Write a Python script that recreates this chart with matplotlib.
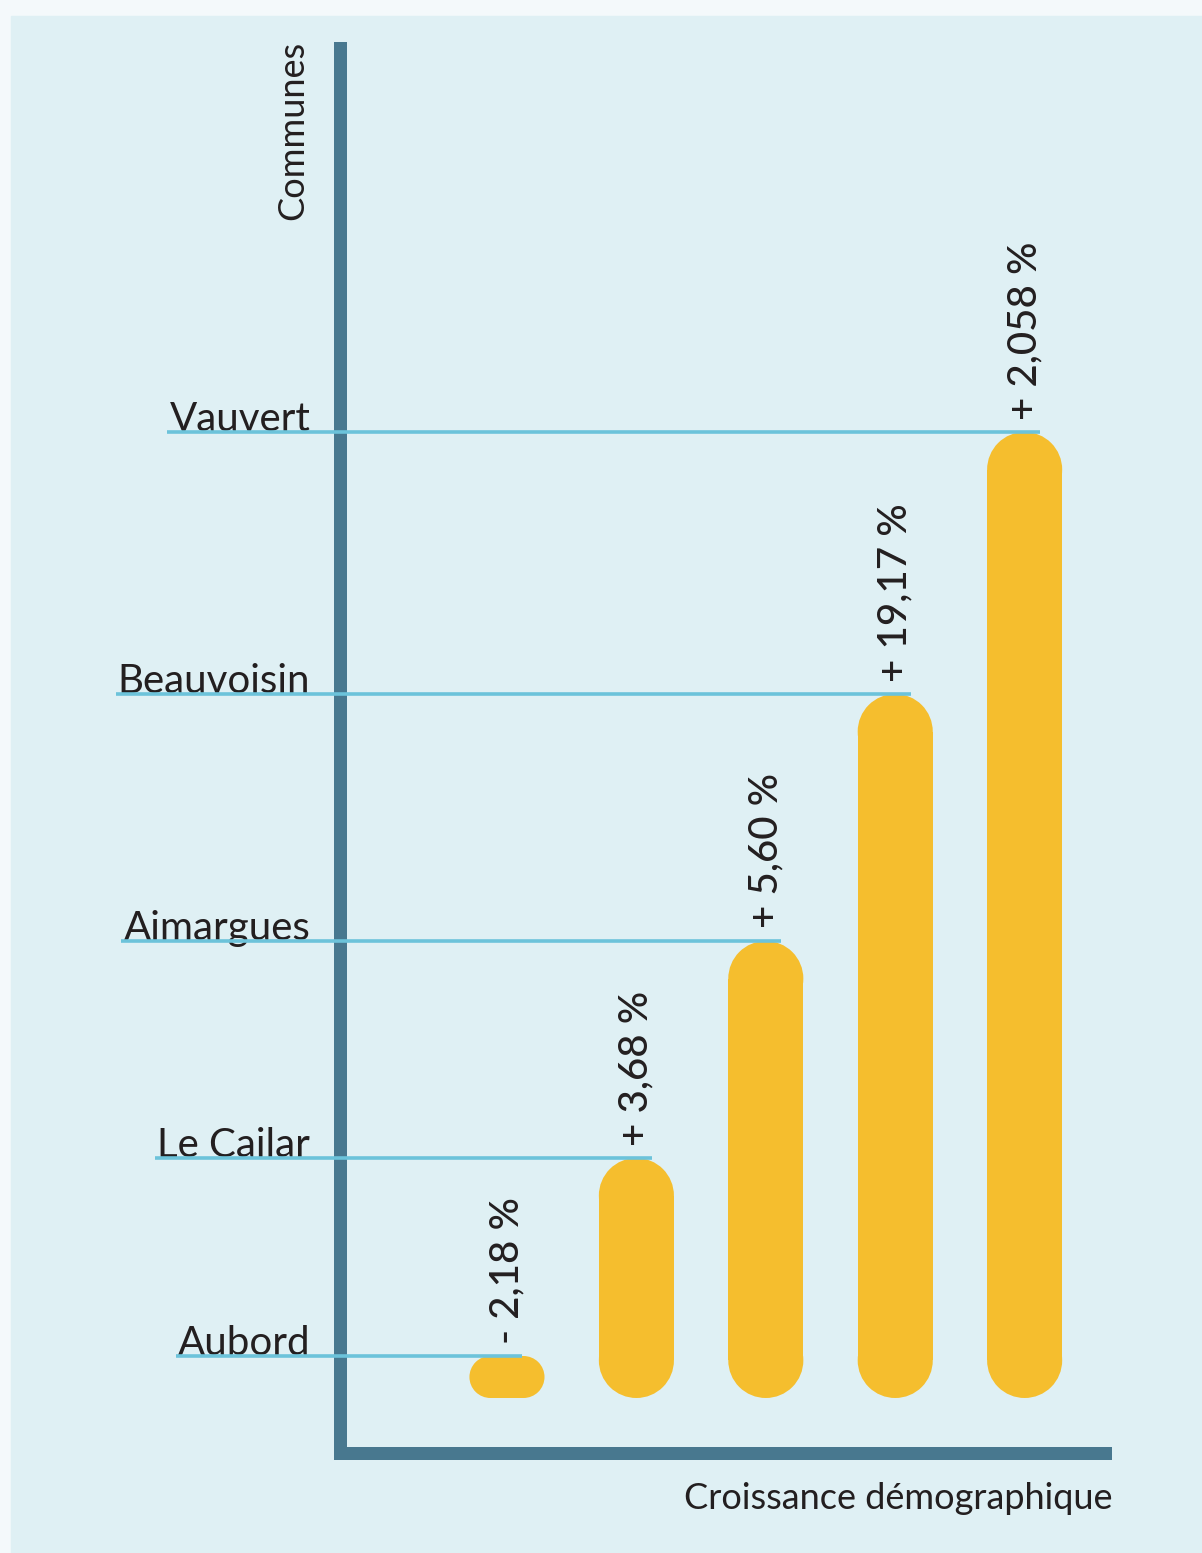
import matplotlib.pyplot as plt
from matplotlib.patches import Rectangle, Ellipse

plt.rcParams['font.family'] = ['Lato', 'DejaVu Sans']

# data
communes = ['Aubord', 'Le Cailar', 'Aimargues', 'Beauvoisin', 'Vauvert']
growth_labels = ['- 2,18 %', '+ 3,68 %', '+ 5,60 %', '+ 19,17 %', '+ 2,058 %']
bar_levels = [42, 240, 457, 704, 966]   # visual bar height (not to scale with the %)

bg_outer = '#f4f9fb'
bg_panel = '#dff0f4'
axis_col = '#48788f'
bar_col = '#f5be2e'
line_col = '#6cc3da'
text_col = '#231f20'

W, H = 1202, 1553
fig = plt.figure(figsize=(W / 100, H / 100), dpi=100, facecolor=bg_outer)
fig.patches.append(Rectangle((11 / W, 0), 1 - 11 / W, (H - 16) / H,
                             transform=fig.transFigure, color=bg_panel, zorder=-5))

ax_l, ax_r, ax_b, ax_t = 339.5, 1104.5, 1452.5, 47.5
ax = fig.add_axes([ax_l / W, (H - ax_b) / H, (ax_r - ax_l) / W, (ax_b - ax_t) / H])
ax.set_facecolor('none')
ax.set_xlim(-1.294, 4.617)
ax.set_ylim(-54.5, 1350.5)
for s in ['top', 'right']:
    ax.spines[s].set_visible(False)
for s in ['left', 'bottom']:
    ax.spines[s].set_color(axis_col)
    ax.spines[s].set_linewidth(13 * 0.72)
    ax.spines[s].set_zorder(2)
ax.set_xticks([])
ax.set_yticks([])

# pixels per data unit, so the rounded ends come out as true half circles
px_x = (ax_r - ax_l) / (ax.get_xlim()[1] - ax.get_xlim()[0])
px_y = (ax_b - ax_t) / (ax.get_ylim()[1] - ax.get_ylim()[0])
bar_w = 0.58


def capsule(x, h):
    wpx, hpx = bar_w * px_x, h * px_y
    kw = dict(fc=bar_col, ec='none', zorder=3)
    if hpx >= wpx:
        ry = wpx / 2 / px_y
        ax.add_patch(Rectangle((x - bar_w / 2, ry), bar_w, h - 2 * ry, **kw))
        for yc in (ry, h - ry):
            ax.add_patch(Ellipse((x, yc), bar_w, 2 * ry, **kw))
    else:
        rx = hpx / 2 / px_x
        ax.add_patch(Rectangle((x - bar_w / 2 + rx, 0), bar_w - 2 * rx, h, **kw))
        for xc in (x - bar_w / 2 + rx, x + bar_w / 2 - rx):
            ax.add_patch(Ellipse((xc, h / 2), 2 * rx, h, **kw))


xs = list(range(len(communes)))
name_texts = []
for i, (name, lab, h) in enumerate(zip(communes, growth_labels, bar_levels)):
    capsule(xs[i], h)
    ax.annotate(lab, xy=(xs[i], h), xytext=(0, 9), textcoords='offset points',
                rotation=90, ha='center', va='bottom', fontsize=29,
                fontweight='medium', color=text_col)
    t = ax.annotate(name, xy=(0, h), xycoords=('axes fraction', 'data'),
                    xytext=(-21, 1), textcoords='offset points',
                    ha='right', va='baseline', fontsize=29, color=text_col,
                    annotation_clip=False)
    name_texts.append(t)

fig.canvas.draw()
rend = fig.canvas.get_renderer()
inv = ax.transData.inverted()
for i, (t, h) in enumerate(zip(name_texts, bar_levels)):
    x0 = t.get_window_extent(rend).x0 - 2
    xd = inv.transform((x0, 0))[0]
    ax.plot([xd, xs[i] + 0.12], [h, h], color=line_col, lw=2.6,
            solid_capstyle='butt', zorder=4, clip_on=False)

ax.annotate('Communes', xy=(0, 1), xycoords='axes fraction',
            xytext=(-33.5, 4.7), textcoords='offset points',
            rotation=90, ha='center', va='top', fontsize=26, color=text_col)
ax.annotate('Croissance démographique', xy=(1, 0), xycoords='axes fraction',
            xytext=(6, -40.5), textcoords='offset points',
            ha='right', va='baseline', fontsize=26, color=text_col)

fig.savefig('out.png', dpi=100, facecolor=bg_outer)
